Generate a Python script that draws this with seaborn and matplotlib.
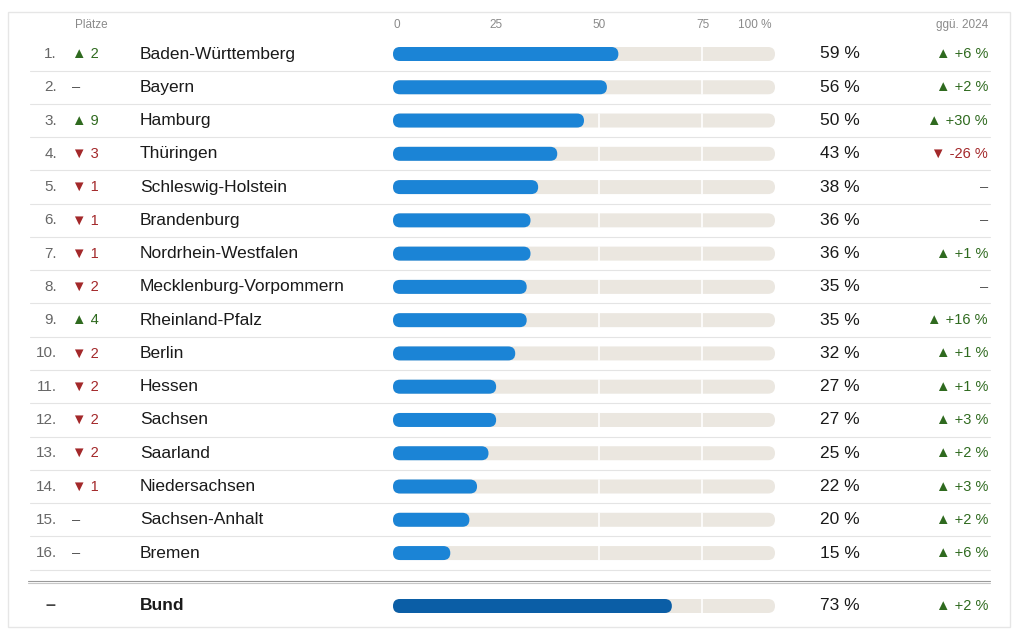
import matplotlib
matplotlib.use("Agg")
import matplotlib.pyplot as plt
from matplotlib.patches import FancyBboxPatch, Rectangle
import seaborn as sns
import pandas as pd

states = ["Baden-Württemberg", "Bayern", "Hamburg", "Thüringen", "Schleswig-Holstein",
          "Brandenburg", "Nordrhein-Westfalen", "Mecklenburg-Vorpommern", "Rheinland-Pfalz",
          "Berlin", "Hessen", "Sachsen", "Saarland", "Niedersachsen", "Sachsen-Anhalt", "Bremen"]
values = [59, 56, 50, 43, 38, 36, 36, 35, 35, 32, 27, 27, 25, 22, 20, 15]
rank_change = [2, 0, 9, -3, -1, -1, -1, -2, 4, -2, -2, -2, -2, -1, 0, 0]
vs_2024 = [6, 2, 30, -26, None, None, 1, None, 16, 1, 1, 3, 2, 3, 2, 6]
bund_value = 73
bund_delta = 2
tick_labels = ["0", "25", "50", "75", "100 %"]

GREEN = "#2f6a1f"
RED = "#a3282a"
BLUE = "#1b84d6"
DARK_BLUE = "#0b5ea6"
TRACK = "#ebe7e0"

# layout: x in percent (0 -> px 393, 100 -> px 775), y in pixels from top
PX = 100 / 382
def xd(px):
    return (px - 393) * PX

row_y = [54 + 33.27 * i for i in range(len(states))]
bund_y = 606

sns.set_theme(style="white")
plt.rcParams["font.family"] = ["Liberation Sans", "DejaVu Sans"]
fig = plt.figure(figsize=(10.24, 6.39), dpi=100)
ax = fig.add_axes([0, 0, 1, 1])
ax.set_xlim(xd(0), xd(1024))
ax.set_ylim(639, 0)
ax.axis("off")

df = pd.DataFrame({"y": row_y + [bund_y], "v": values + [bund_value],
                   "track": [100] * (len(states) + 1)})
sns.barplot(data=df, x="track", y="y", orient="h", native_scale=True, color=TRACK,
            width=14 / 33.27, ax=ax, saturation=1)
n_track = len(ax.patches)
sns.barplot(data=df, x="v", y="y", orient="h", native_scale=True, color=BLUE,
            width=14 / 33.27, ax=ax, saturation=1)

# replace rectangles with rounded ones
patches = list(ax.patches)
for k, p in enumerate(patches):
    x0, y0, w, h = p.get_x(), p.get_y(), p.get_width(), p.get_height()
    color = p.get_facecolor()
    if k >= n_track and k == len(patches) - 1:
        color = DARK_BLUE
    p.remove()
    ax.add_patch(FancyBboxPatch((x0, y0), w, h,
                                boxstyle=f"round,pad=0,rounding_size={7 * PX}",
                                mutation_aspect=1 / PX, facecolor=color, edgecolor="none",
                                zorder=2 if k < n_track else 3))
    if k < n_track:
        for gx in (54, 81):
            ax.plot([gx, gx], [y0, y0 + h], color="white", lw=1.2, zorder=2.5)

# card frame
ax.add_patch(Rectangle((xd(8), 12), xd(1010) - xd(8), 615, fill=False,
                       edgecolor="#e6e6e6", lw=1, zorder=1))

# header
for lab, px in zip(tick_labels, [397, 496, 599, 703, 755]):
    ax.text(xd(px), 25, lab, ha="center", va="center", fontsize=8.5, color="#8a8a8a")
ax.text(xd(75), 25, "Plätze", ha="left", va="center", fontsize=8.5, color="#8a8a8a")
ax.text(xd(988), 25, "ggü. 2024", ha="right", va="center", fontsize=8.5, color="#8a8a8a")

def arrow_text(x, y, delta, fs, fmt):
    if delta is None:
        return "–", "#555555"
    if delta > 0:
        return "▲" + fmt.format(delta), GREEN
    if delta < 0:
        return "▼" + fmt.format(abs(delta)) if fmt == "{}" else "▼ " + fmt.format(delta), RED
    return "–", "#555555"

for i, (name, v, rc, d) in enumerate(zip(states, values, rank_change, vs_2024)):
    y = row_y[i]
    ax.text(xd(57), y, f"{i + 1}.", ha="right", va="center", fontsize=11, color="#666666")
    s, c = arrow_text(0, y, rc if rc != 0 else None, 11, "{}")
    ax.text(xd(72), y, s.replace("▲", "▲ ").replace("▼", "▼ "), ha="left", va="center",
            fontsize=10.5, color=c)
    ax.text(xd(140), y, name, ha="left", va="center", fontsize=12.5, color="#1a1a1a")
    ax.text(xd(860), y, f"{v} %", ha="right", va="center", fontsize=12.5, color="#1a1a1a")
    if d is None:
        ds, dc = "–", "#555555"
    elif d > 0:
        ds, dc = f"▲ +{d} %", GREEN
    else:
        ds, dc = f"▼ -{abs(d)} %", RED
    ax.text(xd(988), y, ds, ha="right", va="center", fontsize=10.5, color=dc)
    ax.plot([xd(30), xd(990)], [y + 16.6, y + 16.6], color="#e4e4e4", lw=0.8, zorder=1)

# Bund row
ax.plot([xd(28), xd(990)], [581, 581], color="#9a9a9a", lw=0.8)
ax.plot([xd(28), xd(990)], [583, 583], color="#c8c8c8", lw=0.8)
ax.text(xd(50), bund_y, "–", ha="center", va="center", fontsize=13, color="#444444",
        fontweight="bold")
ax.text(xd(140), bund_y, "Bund", ha="left", va="center", fontsize=12.5, color="#1a1a1a",
        fontweight="bold")
ax.text(xd(860), bund_y, f"{bund_value} %", ha="right", va="center", fontsize=12.5,
        color="#1a1a1a")
ax.text(xd(988), bund_y, f"▲ +{bund_delta} %", ha="right", va="center", fontsize=10.5,
        color=GREEN)

fig.savefig("out.png", dpi=100, facecolor="white")
